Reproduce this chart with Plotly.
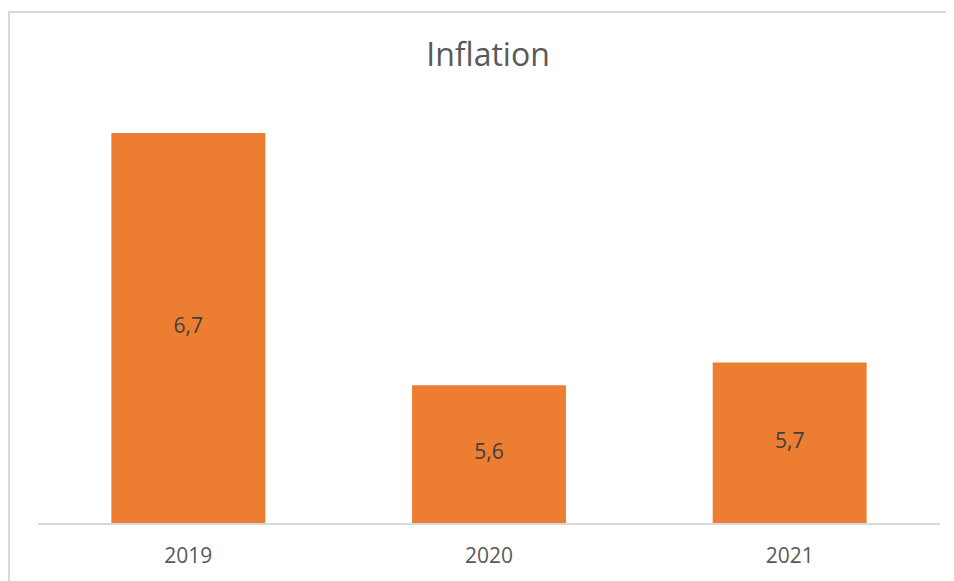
import plotly.graph_objects as go

years = ["2019", "2020", "2021"]
inflation = [6.7, 5.6, 5.7]
labels = ["6,7", "5,6", "5,7"]
axis_min = 5.0
axis_max = 6.8

# label placed at middle of the visible part of each bar
label_y = [(axis_min + v) / 2 for v in inflation]

fig = go.Figure()
fig.add_trace(
    go.Bar(
        x=years,
        y=inflation,
        marker=dict(color="#ED7D31", line=dict(width=0)),
        hoverinfo="skip",
    )
)
fig.add_trace(
    go.Scatter(
        x=years,
        y=label_y,
        mode="text",
        text=labels,
        textposition="middle center",
        textfont=dict(family="Open Sans", size=21, color="#404040"),
        hoverinfo="skip",
    )
)

W, H = 946, 573  # page has an 8px body margin
fig.update_layout(
    width=W,
    height=H,
    margin=dict(l=30, r=14, t=102, b=56),
    paper_bgcolor="white",
    plot_bgcolor="white",
    bargap=0.488,
    showlegend=False,
    title=dict(
        text="Inflation",
        x=480 / W,
        xanchor="center",
        y=1 - 47 / H,
        yanchor="middle",
        font=dict(family="Open Sans", size=32, color="#595959"),
    ),
    xaxis=dict(
        showline=True,
        linecolor="#D9D9D9",
        linewidth=2,
        ticks="",
        showgrid=False,
        ticklabelstandoff=13,
        tickfont=dict(family="Open Sans", size=21, color="#595959"),
    ),
    yaxis=dict(
        range=[axis_min, axis_max],
        visible=False,
        showgrid=False,
        zeroline=False,
    ),
    shapes=[
        dict(
            type="rect",
            xref="paper",
            yref="paper",
            x0=(1 - 30) / 902,
            x1=(970 - 30) / 902,
            y0=(517 - 600) / 415,
            y1=(517 - 3.5) / 415,
            line=dict(color="#D9D9D9", width=2),
            fillcolor="rgba(0,0,0,0)",
            layer="below",
        )
    ],
)

fig.write_html("out.html")
